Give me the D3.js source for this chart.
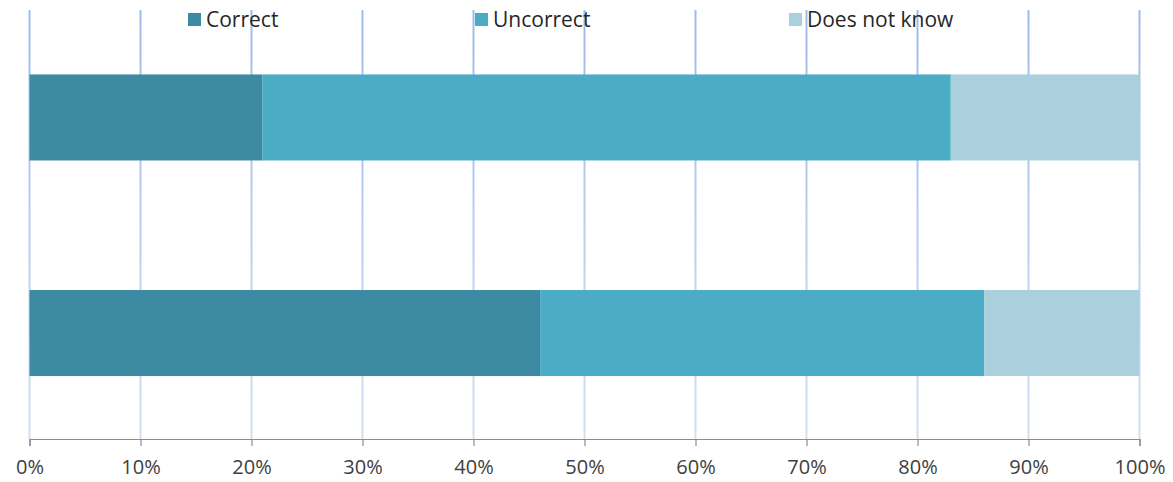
<!DOCTYPE html>
<html>
<head>
<meta charset="utf-8">
<script src="https://cdn.jsdelivr.net/npm/d3@7"></script>
<style>
  body { margin: 0; background: #fff; }
  svg text { font-family: "Open Sans", "Noto Sans", sans-serif; }
</style>
</head>
<body>
<svg id="chart" width="1173" height="482"></svg>
<script>
// data
const categories = ["Group A", "Group B"];
const seriesNames = ["Correct", "Uncorrect", "Does not know"];
const correct = [21, 46];
const uncorrect = [62, 40];
const doesNotKnow = [17, 14];
const ticks = [0, 10, 20, 30, 40, 50, 60, 70, 80, 90, 100];

const colors = ["#3c8ba2", "#4bacc6", "#aacfdd"];

let margin = {top: 10, right: 33.5, bottom: 43, left: 29.5};
let width = 1173, height = 482;

let svg = d3.select("#chart");

let x = d3.scaleLinear()
    .domain([0, 100])
    .range([margin.left, width - margin.right]);

let y = d3.scaleBand()
    .domain(categories)
    .range([margin.top + 1.5, height - margin.bottom])
    .paddingInner(0.601)
    .paddingOuter(0.292);

// gridline gradient, darker at top
let defs = svg.append("defs");
let grad = defs.append("linearGradient")
    .attr("id", "gridGrad")
    .attr("gradientUnits", "userSpaceOnUse")
    .attr("x1", 0).attr("y1", margin.top)
    .attr("x2", 0).attr("y2", height - margin.bottom);
grad.append("stop").attr("offset", "0%").attr("stop-color", "#9fbbea");
grad.append("stop").attr("offset", "100%").attr("stop-color", "#d3dff3");

svg.append("g")
    .selectAll("rect.grid")
    .data(ticks)
    .join("rect")
    .attr("class", "grid")
    .attr("x", d => x(d) - 1)
    .attr("y", margin.top)
    .attr("width", 2)
    .attr("height", height - margin.bottom - margin.top)
    .attr("fill", "url(#gridGrad)");

// stack
let rows = categories.map((c, i) => ({
    cat: c,
    "Correct": correct[i],
    "Uncorrect": uncorrect[i],
    "Does not know": doesNotKnow[i]
}));
let stacked = d3.stack().keys(seriesNames)(rows);

svg.append("g")
    .selectAll("g")
    .data(stacked)
    .join("g")
    .attr("fill", (d, i) => colors[i])
    .selectAll("rect")
    .data(d => d)
    .join("rect")
    .attr("x", d => x(d[0]))
    .attr("y", d => y(d.data.cat))
    .attr("width", d => x(d[1]) - x(d[0]))
    .attr("height", y.bandwidth());

// x axis
let axis = d3.axisBottom(x)
    .tickValues(ticks)
    .tickFormat(d => d + "%")
    .tickSize(7)
    .tickPadding(14);

let gx = svg.append("g")
    .attr("transform", "translate(0," + (height - margin.bottom) + ")")
    .call(axis);
gx.select(".domain").attr("stroke", "#8c8c8c").attr("stroke-width", 1.2);
gx.selectAll(".tick line").attr("stroke", "#8c8c8c").attr("stroke-width", 1.2);
gx.selectAll(".tick text")
    .attr("fill", "#404040")
    .style("font-size", "20px");

// legend
let legendX = [188, 475, 789];
let legend = svg.append("g")
    .selectAll("g")
    .data(seriesNames)
    .join("g")
    .attr("transform", (d, i) => "translate(" + legendX[i] + ",13)");
legend.append("rect")
    .attr("width", 13)
    .attr("height", 13)
    .attr("fill", (d, i) => colors[i]);
legend.append("text")
    .attr("x", 18)
    .attr("y", 13.5)
    .attr("fill", "#262626")
    .style("font-size", "21px")
    .text(d => d);
</script>
</body>
</html>
